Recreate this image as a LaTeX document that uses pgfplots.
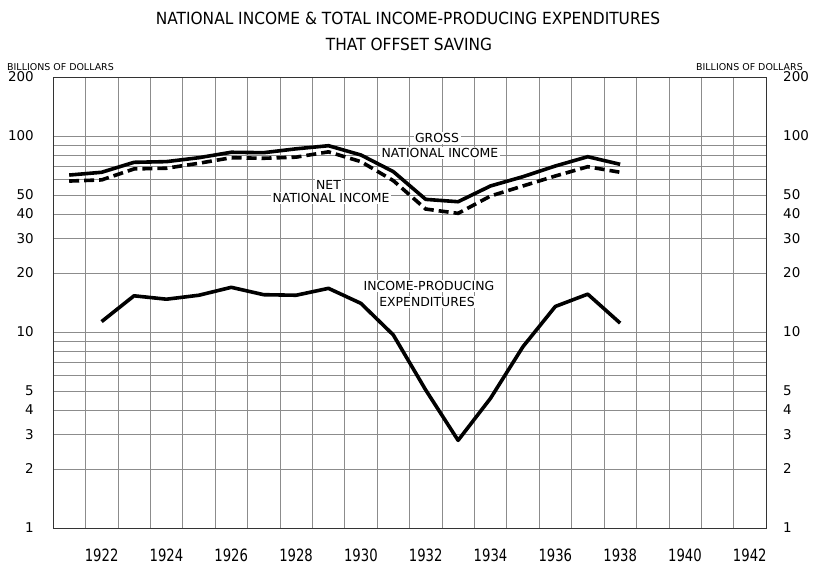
\documentclass[border=0pt]{standalone}
\usepackage{fontspec}
\setmainfont{DejaVu Sans}
\newfontfamily\xlab[FakeStretch=0.78]{DejaVu Sans}
\newfontfamily\tfont[FakeStretch=0.92]{DejaVu Sans}
\usepackage{pgfplots}
\pgfplotsset{compat=1.18}

\pgfplotstableread{
year gross net
1921 63.2 58.9
1922 65.3 59.7
1923 73.4 67.9
1924 74.0 68.5
1925 77.5 72.6
1926 82.6 77.5
1927 82.2 77.0
1928 86.0 78.0
1929 89.2 83.0
1930 80.0 74.0
1931 65.8 59.2
1932 47.5 42.4
1933 46.2 40.3
1934 55.6 49.4
1935 62.0 55.6
1936 70.3 62.5
1937 78.4 69.7
1938 71.7 65.3
}\income

\pgfplotstableread{
year exp
1922 11.3
1923 15.3
1924 14.7
1925 15.4
1926 16.9
1927 15.5
1928 15.4
1929 16.7
1930 14.0
1931 9.66
1932 5.06
1933 2.80
1934 4.59
1935 8.41
1936 13.5
1937 15.6
1938 11.1
}\expend

\begin{document}
\begin{tikzpicture}
\useasboundingbox (-53bp,-40bp) rectangle (765bp,528bp);
\begin{axis}[
  at={(0bp,0bp)}, anchor=south west,
  scale only axis, width=713bp, height=451bp,
  xmin=1920.5, xmax=1942.5,
  ymode=log, ymin=1, ymax=200,
  xtick={1922,1924,...,1942},
  xticklabels={1922,1924,1926,1928,1930,1932,1934,1936,1938,1940,1942},
  minor xtick={1921.5,1922.5,...,1941.5},
  ytick={1,2,3,4,5,10,20,30,40,50,100,200},
  yticklabels={1,2,3,4,5,10,20,30,40,50,100,200},
  minor ytick={6,7,8,9,60,70,80,90},
  xminorgrids, ymajorgrids, yminorgrids,
  major tick length=0pt, minor tick length=0pt,
  grid style={black!45, line width=0.5bp},
  minor grid style={black!45, line width=0.5bp},
  axis line style={black!80, line width=0.8bp},
  xticklabel style={font=\xlab\fontsize{17}{18}\selectfont, anchor=center, yshift=-27bp},
  yticklabel style={font=\fontsize{13.5}{14}\selectfont, anchor=east, inner sep=0pt, xshift=-19bp},
  clip=false,
]
\addplot[black, line width=3.6bp, line join=round] table[x=year, y=gross] {\income};
\addplot[black, line width=3.6bp, dash pattern=on 10bp off 5bp] table[x=year, y=net] {\income};
\addplot[black, line width=3.6bp, line join=round] table[x=year, y=exp] {\expend};

\tikzset{lab/.style={fill=white, inner sep=1.5pt, font=\fontsize{12.5}{13}\selectfont}}
\node[lab] at (axis cs:1932.35,97.7) {GROSS};
\node[lab] at (axis cs:1932.44,81.9) {NATIONAL INCOME};
\node[lab] at (axis cs:1929.0,56.2) {NET};
\node[lab] at (axis cs:1929.08,48.3) {NATIONAL INCOME};
\node[lab] at (axis cs:1932.1,17.2) {INCOME-PRODUCING};
\node[lab] at (axis cs:1932.04,14.2) {EXPENDITURES};
\end{axis}
\begin{axis}[
  at={(0bp,0bp)}, anchor=south west,
  scale only axis, width=713bp, height=451bp,
  xmin=1920.5, xmax=1942.5,
  ymode=log, ymin=1, ymax=200,
  axis x line=none, axis y line*=right,
  axis line style={draw=none},
  ytick={1,2,3,4,5,10,20,30,40,50,100,200},
  yticklabels={1,2,3,4,5,10,20,30,40,50,100,200},
  major tick length=0pt, minor tick length=0pt,
  yticklabel style={font=\fontsize{13.5}{14}\selectfont, anchor=west, inner sep=0pt, xshift=17bp},
]
\end{axis}
\node[font=\tfont\fontsize{16.8}{18}\selectfont] at (355bp,510bp) {NATIONAL INCOME \& TOTAL INCOME-PRODUCING EXPENDITURES};
\node[font=\tfont\fontsize{16.8}{18}\selectfont] at (356bp,484bp) {THAT OFFSET SAVING};
\node[font=\fontsize{9.5}{10}\selectfont, anchor=west, inner sep=0pt] at (-46bp,461bp) {BILLIONS OF DOLLARS};
\node[font=\fontsize{9.5}{10}\selectfont, anchor=east, inner sep=0pt] at (750bp,461bp) {BILLIONS OF DOLLARS};
\end{tikzpicture}
\end{document}
